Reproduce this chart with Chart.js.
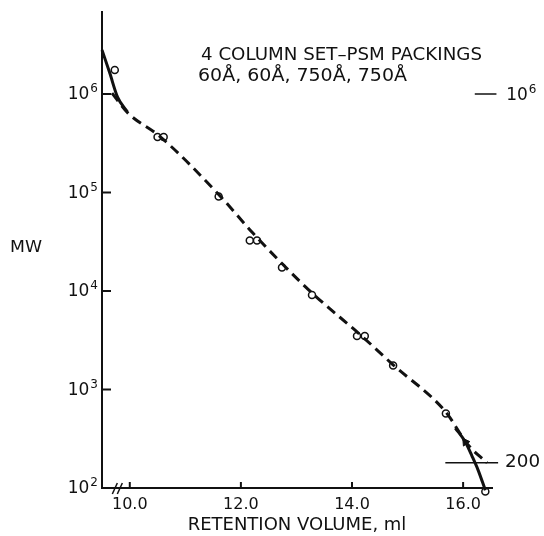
<!DOCTYPE html>
<html>
<head>
<meta charset="utf-8">
<script src="https://cdn.jsdelivr.net/npm/chart.js@4.4.0/dist/chart.umd.min.js"></script>
<style>
  html, body { margin: 0; padding: 0; background: #fff; }
  #wrap { width: 544px; height: 536px; }
</style>
</head>
<body>
<div id="wrap"><canvas id="mwChart" width="544" height="536"></canvas></div>
<script>
// Calibration data
const markerVol = [9.73, 10.50, 10.61, 11.60, 12.16, 12.29, 12.74, 13.28, 14.09, 14.23, 14.74, 15.69, 16.40];
const markerMW  = [1.75e6, 3.66e5, 3.66e5, 9.1e4, 3.26e4, 3.26e4, 1.73e4, 9.1e3, 3.5e3, 3.5e3, 1.75e3, 570, 92];

// dashed calibration curve
const dashVol = [9.68, 9.96, 10.54, 11.60, 12.22, 12.74, 13.28, 14.16, 14.74, 15.68, 16.09, 16.43];
const dashMW  = [1.02e6, 6.46e5, 3.72e5, 9.55e4, 3.85e4, 1.9e4, 9.55e3, 3.55e3, 1.78e3, 598, 274, 180];

// solid end sections
const topVol = [9.50, 9.64, 9.78, 9.96];
const topMW  = [2.8e6, 1.63e6, 9.3e5, 6.56e5];
const endVol = [15.86, 16.04, 16.16, 16.27, 16.40];
const endMW  = [406, 293, 211, 152, 95];

// exclusion / permeation limit marks on the right
const limVol = [16.21, 16.60];
const limMW  = [1e6, 1e6];
const lowVol = [15.68, 16.63];
const lowMW  = [180, 180];

const xTicks = [10, 12, 14, 16];
const yTicks = [1e2, 1e3, 1e4, 1e5, 1e6];
const yTickExp = ['2', '3', '4', '5', '6'];

const INK = '#111';
const FONT = '"DejaVu Sans", "Liberation Sans", sans-serif';

function pts(xs, ys) {
    return xs.map((x, i) => ({ x: x, y: ys[i] }));
}

// text squeezed / stretched to the width it has in the original
function fitText(ctx, text, x, y, size, width) {
    ctx.font = size + 'px ' + FONT;
    const w = ctx.measureText(text).width;
    ctx.save();
    ctx.translate(x, y);
    ctx.scale(width / w, 1);
    ctx.fillText(text, 0, 0);
    ctx.restore();
}

// power-of-ten label with raised exponent, right edge at x
function powerLabel(ctx, exp, x, y) {
    ctx.textAlign = 'left';
    ctx.font = '12px ' + FONT;
    const ew = ctx.measureText(exp).width;
    ctx.font = '17px ' + FONT;
    const bw = ctx.measureText('10').width;
    ctx.fillText('10', x - ew - bw - 1, y + 1);
    ctx.font = '12px ' + FONT;
    ctx.fillText(exp, x - ew, y - 5);
}

// draws inside ticks, axis break and the text annotations
const annotations = {
    id: 'annotations',
    afterDraw(chart) {
        const ctx = chart.ctx;
        const xs = chart.scales.x, ys = chart.scales.y;
        const area = chart.chartArea;
        ctx.save();
        ctx.strokeStyle = INK;
        ctx.fillStyle = INK;
        ctx.lineWidth = 2;

        // ticks pointing into the plot
        yTicks.forEach(v => {
            const y = ys.getPixelForValue(v);
            ctx.beginPath();
            ctx.moveTo(area.left, y);
            ctx.lineTo(area.left + 9, y);
            ctx.stroke();
        });
        xTicks.forEach(v => {
            const x = xs.getPixelForValue(v);
            ctx.beginPath();
            ctx.moveTo(x, area.bottom);
            ctx.lineTo(x, area.bottom - 6);
            ctx.stroke();
        });

        // axis break
        ctx.lineWidth = 1.5;
        const bx = xs.getPixelForValue(9.74);
        [0, 5].forEach(dx => {
            ctx.beginPath();
            ctx.moveTo(bx + dx - 3, area.bottom + 6);
            ctx.lineTo(bx + dx + 2, area.bottom - 5);
            ctx.stroke();
        });

        ctx.textBaseline = 'middle';

        // y tick labels
        yTicks.forEach((v, i) => powerLabel(ctx, yTickExp[i], area.left - 4, ys.getPixelForValue(v)));

        // right side marks
        powerLabel(ctx, '6', xs.getPixelForValue(16.6) + 40, ys.getPixelForValue(1e6) + 1);
        ctx.textAlign = 'left';
        fitText(ctx, '200', xs.getPixelForValue(16.63) + 7, ys.getPixelForValue(180), 17, 35);

        fitText(ctx, 'MW', 10, 248, 16, 32);
        fitText(ctx, '4 COLUMN SET–PSM PACKINGS', 201, 56, 17, 281);
        fitText(ctx, '60Å, 60Å, 750Å, 750Å', 198, 77, 17, 209);
        ctx.restore();
    }
};

const ctx = document.getElementById('mwChart').getContext('2d');
const chart = new Chart(ctx, {
    type: 'scatter',
    data: {
        datasets: [
            {
                label: 'dashed',
                data: pts(dashVol, dashMW),
                showLine: true,
                borderColor: INK,
                borderWidth: 3,
                borderDash: [10, 6],
                pointRadius: 0,
                cubicInterpolationMode: 'monotone',
                clip: false
            },
            {
                label: 'top',
                data: pts(topVol, topMW),
                showLine: true,
                borderColor: INK,
                borderWidth: 3,
                pointRadius: 0,
                cubicInterpolationMode: 'monotone',
                clip: false
            },
            {
                label: 'end',
                data: pts(endVol, endMW),
                showLine: true,
                borderColor: INK,
                borderWidth: 3,
                pointRadius: 0,
                cubicInterpolationMode: 'monotone',
                clip: false
            },
            {
                label: 'arrow',
                data: [{ x: endVol[1], y: endMW[1] }],
                showLine: false,
                pointStyle: 'triangle',
                pointRadius: 4.5,
                pointRotation: -35,
                pointBorderWidth: 1,
                pointBorderColor: INK,
                pointBackgroundColor: INK,
                clip: false
            },
            {
                label: 'limit',
                data: pts(limVol, limMW),
                showLine: true,
                borderColor: INK,
                borderWidth: 1.5,
                pointRadius: 0,
                clip: false
            },
            {
                label: 'low',
                data: pts(lowVol, lowMW),
                showLine: true,
                borderColor: INK,
                borderWidth: 1.5,
                pointRadius: 0,
                clip: false
            },
            {
                label: 'standards',
                data: pts(markerVol, markerMW),
                showLine: false,
                pointStyle: 'circle',
                pointRadius: 3.5,
                pointBorderWidth: 1.5,
                pointBorderColor: INK,
                pointBackgroundColor: '#fff',
                clip: false
            }
        ]
    },
    options: {
        responsive: false,
        animation: false,
        layout: { padding: { top: 12, right: 52, left: 0, bottom: 0 } },
        plugins: {
            legend: { display: false },
            tooltip: { enabled: false }
        },
        scales: {
            x: {
                type: 'linear',
                min: 9.5,
                max: 16.52,
                grid: { display: false, drawTicks: false },
                border: { display: true, color: INK, width: 2 },
                afterBuildTicks: s => { s.ticks = xTicks.map(v => ({ value: v })); },
                afterFit: s => { s.height = 48; },
                ticks: {
                    color: INK,
                    padding: 7,
                    maxRotation: 0,
                    font: { family: FONT, size: 16 },
                    callback: v => v.toFixed(1)
                },
                title: {
                    display: true,
                    text: 'RETENTION VOLUME, ml',
                    color: INK,
                    padding: { top: 0, bottom: 0 },
                    font: { family: FONT, size: 18 }
                }
            },
            y: {
                type: 'logarithmic',
                min: 100,
                max: 6.8e6,
                grid: { display: false, drawTicks: false },
                border: { display: true, color: INK, width: 2 },
                afterBuildTicks: s => { s.ticks = yTicks.map(v => ({ value: v })); },
                afterFit: s => { s.width = 102; },
                ticks: { display: false }
            }
        }
    },
    plugins: [annotations]
});
</script>
</body>
</html>
